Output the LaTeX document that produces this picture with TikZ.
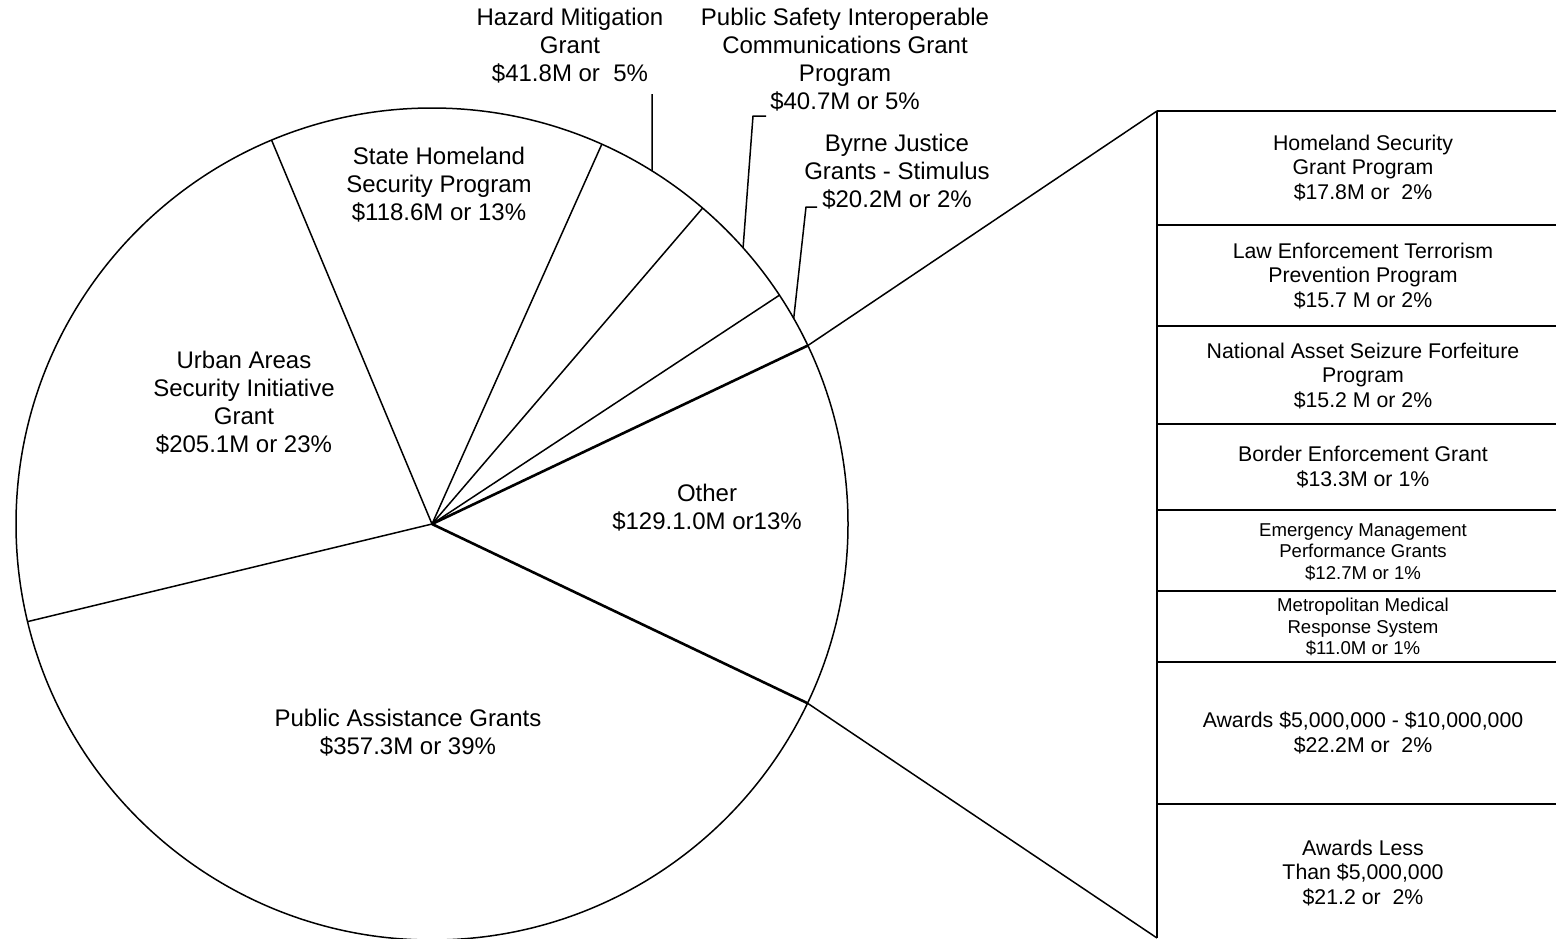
\documentclass[tikz,border=0pt]{standalone}
\usepackage{fontspec}
\setmainfont{Liberation Sans}
\usetikzlibrary{calc}
\begin{document}
\begin{tikzpicture}[x=0.5pt,y=-0.5pt,
  edge/.style={line width=0.75pt, draw=black},
  heavyedge/.style={line width=1.3pt, draw=black},
  lbl/.style={align=center, inner sep=0pt, font=\fontsize{12}{14}\selectfont},
  boxtxt/.style={align=center, inner sep=0pt, font=\fontsize{10.65}{12.3}\selectfont},
  smalltxt/.style={align=center, inner sep=0pt, font=\fontsize{9.3}{10.8}\selectfont},
  line join=round]
\useasboundingbox (0,0) rectangle (1556,938);
\def\pieR{416}
\coordinate (C) at (432,524);
% slice boundary points on the circle
\path (C) ++(-25.4:\pieR) coordinate (pOB);
\path (C) ++(-33.37:\pieR) coordinate (pBP);
\path (C) ++(-49.42:\pieR) coordinate (pPH);
\path (C) ++(-65.91:\pieR) coordinate (pHS);
\path (C) ++(-112.68:\pieR) coordinate (pSU);
\path (C) ++(-193.57:\pieR) coordinate (pUA);
\path (C) ++(-334.49:\pieR) coordinate (pAO);
% pie
\draw[edge] (C) circle[radius=\pieR];
\draw[edge] (C) -- (pBP);
\draw[edge] (C) -- (pPH);
\draw[edge] (C) -- (pHS);
\draw[edge] (C) -- (pSU);
\draw[edge] (C) -- (pUA);
\draw[heavyedge] (C) -- (pOB);
\draw[heavyedge] (C) -- (pAO);
% labels inside the pie
\node[lbl] (state) at (439,185) {State Homeland\\Security Program\\\$118.6M or 13\%};
\node[lbl] (urban) at (244,403) {Urban Areas\\Security Initiative\\Grant\\\$205.1M or 23\%};
\node[lbl] (other) at (707,508) {Other\\\$129.1.0M or13\%};
\node[lbl] (pa) at (408,733) {Public Assistance Grants\\\$357.3M or 39\%};
% outside labels with leaders
\node[lbl] (hazard) at (570,46) {Hazard Mitigation\\Grant\\\$41.8M or\ \ 5\%};
\node[lbl] (psic) at (845,60) {Public Safety Interoperable\\Communications Grant\\Program\\\$40.7M or 5\%};
\node[lbl] (byrne) at (897,172) {Byrne Justice\\Grants - Stimulus\\\$20.2M or 2\%};
\path (C) ++(-58.07:\pieR) coordinate (hzA);
\coordinate (hzB) at (652,94);
\draw[edge] (hzA) -- (hzB);
\path (C) ++(-41.6:\pieR) coordinate (psA);
\coordinate (psB) at (753,116);
\coordinate (psC) at (766,116);
\draw[edge] (psA) -- (psB) -- (psC);
\path (C) ++(-29.6:\pieR) coordinate (byA);
\coordinate (byB) at (806,207);
\coordinate (byC) at (817,207);
\draw[edge] (byA) -- (byB) -- (byC);
% breakdown column
\coordinate (T0) at (1157,111);
\coordinate (T1) at (1157,938);
\draw[edge] (pOB) -- (T0);
\draw[edge] (pAO) -- (T1);
\draw[edge] (T0) -- (T1);
\foreach \yy in {111,225,326,424,510,591,662,804}
  \draw[edge] (1157,\yy) -- (1556,\yy);
\node[boxtxt] (b1) at (1363,168) {Homeland Security\\Grant Program\\\$17.8M or\ \ 2\%};
\node[boxtxt] (b2) at (1363,276) {Law Enforcement Terrorism\\Prevention Program\\\$15.7 M or 2\%};
\node[boxtxt] (b3) at (1363,376) {National Asset Seizure Forfeiture\\Program\\\$15.2 M or 2\%};
\node[boxtxt] (b4) at (1363,467) {Border Enforcement Grant\\\$13.3M or 1\%};
\node[smalltxt] (b5) at (1363,552) {Emergency Management\\Performance Grants\\\$12.7M or 1\%};
\node[smalltxt] (b6) at (1363,627) {Metropolitan Medical\\Response System\\\$11.0M or 1\%};
\node[boxtxt] (b7) at (1363,733) {Awards \$5,000,000 - \$10,000,000\\\$22.2M or\ \ 2\%};
\node[boxtxt] (b8) at (1363,873) {Awards Less\\Than \$5,000,000\\\$21.2 or\ \ 2\%};
\end{tikzpicture}
\end{document}
